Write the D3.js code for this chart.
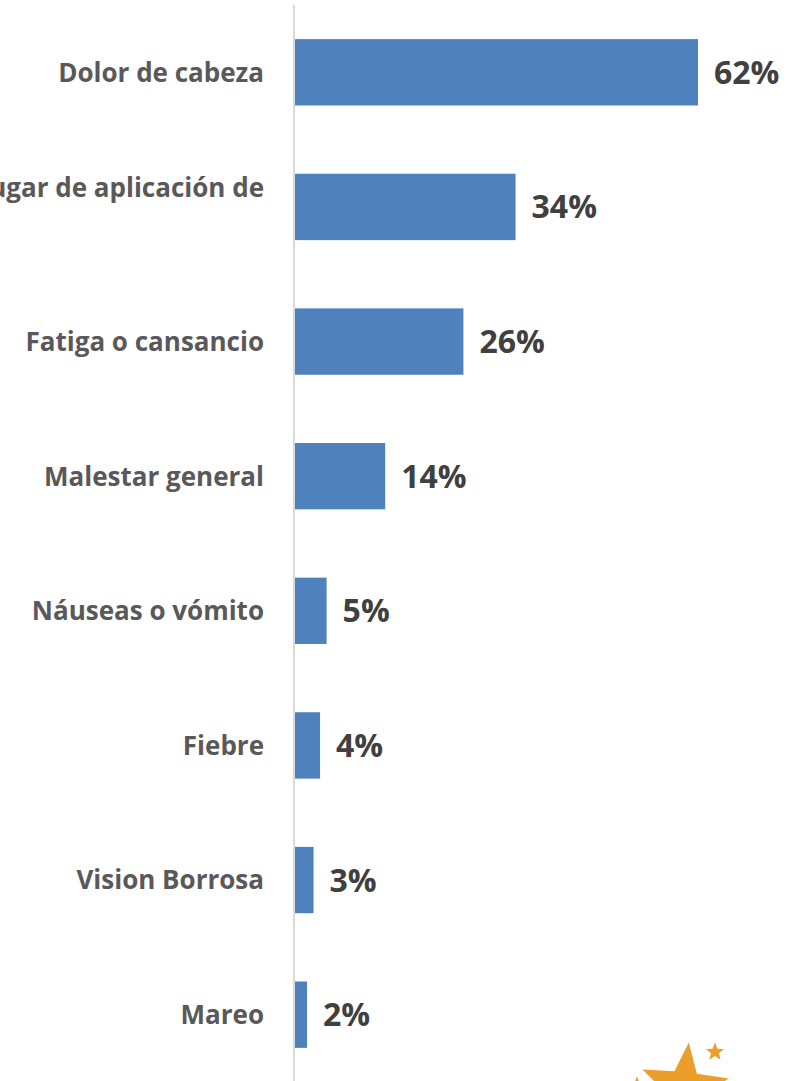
<!DOCTYPE html>
<html>
<head>
<meta charset="utf-8">
<script src="https://cdn.jsdelivr.net/npm/d3@7"></script>
<style>
  html, body { margin: 0; padding: 0; background: #ffffff; overflow: hidden; }
  svg { display: block; }
</style>
</head>
<body>
<svg id="chart" width="799" height="1081"></svg>
<script>
// ---- data ----
const categories = [
  "Dolor de cabeza",
  "Dolor en el lugar de aplicación de",
  "Fatiga o cansancio",
  "Malestar general",
  "Náuseas o vómito",
  "Fiebre",
  "Vision Borrosa",
  "Mareo"
];
const values = [0.62, 0.34, 0.26, 0.14, 0.05, 0.04, 0.03, 0.02];
const valueLabels = ["62%", "34%", "26%", "14%", "5%", "4%", "3%", "2%"];

// ---- layout ----
const W = 799, H = 1081;
const svg = d3.select("#chart");

const x = d3.scaleLinear().domain([0, 0.62]).range([294, 698]);
const y = d3.scaleBand().domain(categories).range([5, 1082]).paddingInner(0.507).paddingOuter(0.2535);

const data = categories.map((c, i) => ({ cat: c, v: values[i], label: valueLabels[i] }));

// bars
svg.append("g").selectAll("rect").data(data).join("rect")
  .attr("x", x(0))
  .attr("y", d => y(d.cat))
  .attr("width", d => x(d.v) - x(0))
  .attr("height", y.bandwidth())
  .attr("fill", "#4F81BD");

// axis line (category axis)
const yAxis = d3.axisLeft(y).tickSize(0).tickPadding(0);
const gAxis = svg.append("g").attr("transform", `translate(${x(0)},0)`).call(yAxis);
gAxis.select(".domain").attr("stroke", "#D9D9D9").attr("stroke-width", 2)
  .attr("d", `M0,5V${H + 2}`);
gAxis.selectAll(".tick text")
  .attr("x", -30)
  .attr("dy", "0.36em")
  .attr("fill", "#595959")
  .style("font-family", "'Open Sans', sans-serif")
  .style("font-weight", "700")
  .style("font-size", "26px")
  .attr("text-anchor", "end");
// the long wrapped label sits on its first line, above the bar centre
gAxis.selectAll(".tick text").filter(d => d === categories[1])
  .attr("dy", "-0.38em");

// value labels
svg.append("g").selectAll("text").data(data).join("text")
  .attr("x", d => x(d.v) + 16)
  .attr("y", d => y(d.cat) + y.bandwidth() / 2)
  .attr("dy", "0.36em")
  .attr("fill", "#404040")
  .style("font-family", "'Open Sans', sans-serif")
  .style("font-weight", "700")
  .style("font-size", "32px")
  .text(d => d.label);

// decorative stars (bottom right)
const stars = [
  { cx: 684, cy: 1088, r: 50, rot: 6 },
  { cx: 715, cy: 1052, r: 14, rot: 0 },
  { cx: 637, cy: 1087, r: 15, rot: 0 }
];
const starPath = (r) => {
  const pts = [];
  for (let i = 0; i < 10; i++) {
    const rr = i % 2 === 0 ? r : r * 0.42;
    const a = -Math.PI / 2 + i * Math.PI / 5;
    pts.push([rr * Math.cos(a), rr * Math.sin(a)]);
  }
  return d3.line()(pts) + "Z";
};
svg.append("g").selectAll("path").data(stars.slice().reverse()).join("path")
  .attr("transform", d => `translate(${d.cx},${d.cy}) rotate(${d.rot})`)
  .attr("d", d => starPath(d.r))
  .attr("fill", "#EC9D2A")
  .attr("stroke", "#ffffff")
  .attr("stroke-width", 3);
</script>
</body>
</html>
